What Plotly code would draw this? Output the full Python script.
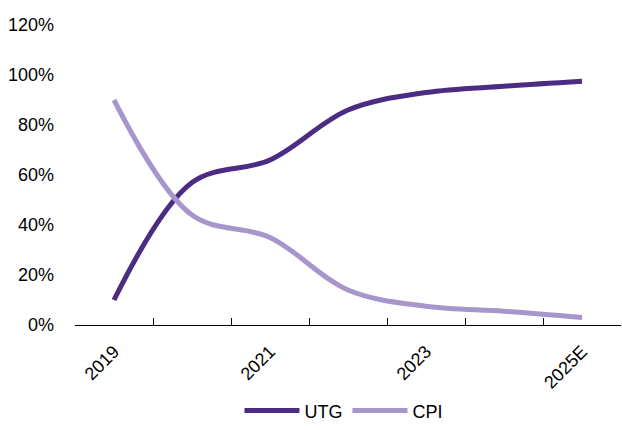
import plotly.graph_objects as go

years = ["2019", "2020", "2021", "2022", "2023", "2024", "2025E"]
tick_text = ["2019", "", "2021", "", "2023", "", "2025E"]
utg = [10, 57, 66, 86, 93, 95.5, 97.5]
cpi = [90, 44, 35, 14, 7.5, 5.5, 3]

fig = go.Figure()
fig.add_trace(go.Scatter(x=years, y=utg, name="UTG", mode="lines",
                         line=dict(color="#4B2C83", width=5, shape="spline", smoothing=1.0)))
fig.add_trace(go.Scatter(x=years, y=cpi, name="CPI", mode="lines",
                         line=dict(color="#A796CC", width=5, shape="spline", smoothing=1.0)))

fig.update_layout(
    width=622, height=430,
    margin=dict(l=75, r=1, t=25, b=105, autoexpand=False),
    plot_bgcolor="white", paper_bgcolor="white",
    font=dict(family="Liberation Sans", size=17, color="#000000"),
    showlegend=True,
    legend=dict(orientation="h", xref="container", yref="paper",
                x=0.553, xanchor="center", y=-0.348, yanchor="bottom",
                font=dict(family="Liberation Sans", size=18),
                itemwidth=55, traceorder="normal"),
)
fig.update_xaxes(
    type="category", tickvals=years, ticktext=tick_text, range=[-0.5, 6.5],
    tickson="boundaries", ticks="inside", ticklen=7, tickcolor="#000",
    showline=True, linecolor="#000", linewidth=1, showgrid=False,
    tickangle=-45, tickfont=dict(family="Liberation Sans", size=18),
    ticklabelstandoff=8,
)
fig.update_yaxes(
    range=[0, 120], dtick=20, ticksuffix="%", showgrid=False, zeroline=False,
    showline=False, ticks="", tickfont=dict(size=18), ticklabelstandoff=20,
)

fig.write_html("out.html", config={"displayModeBar": False},
               post_script="document.body.style.margin='0px';")
